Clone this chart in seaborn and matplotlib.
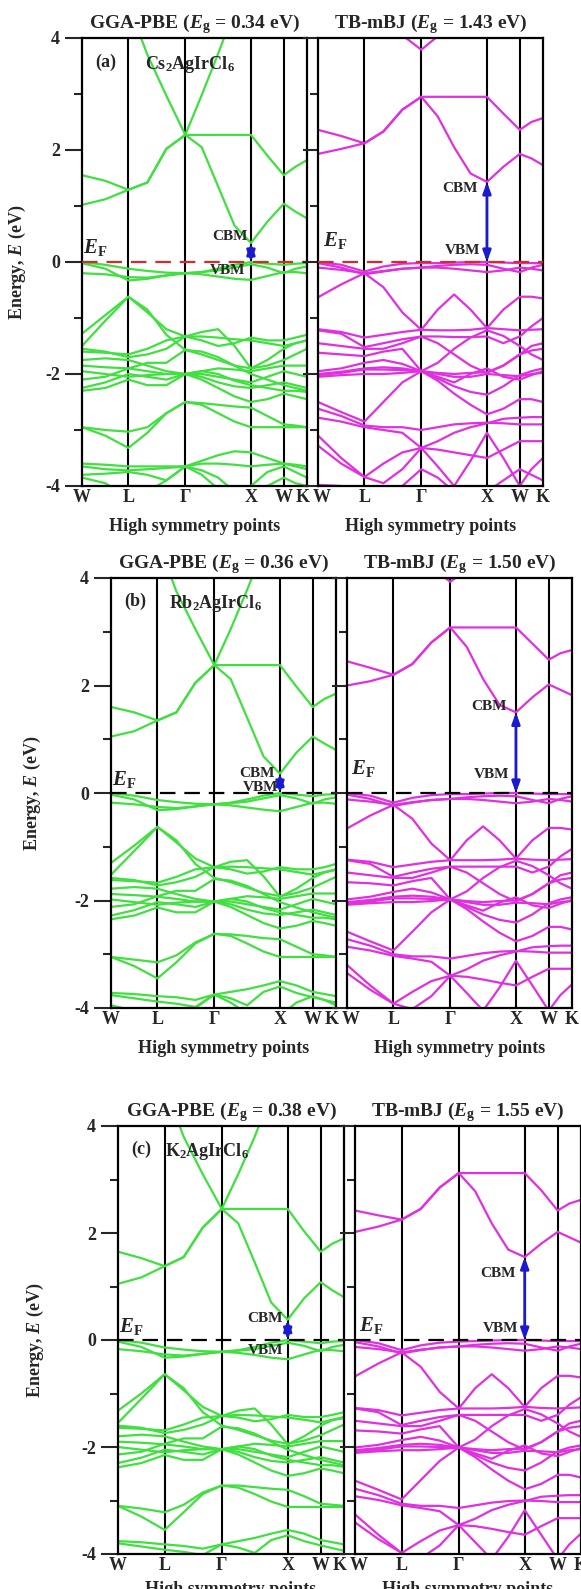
import numpy as np
import pandas as pd
import matplotlib
matplotlib.use("Agg")
import matplotlib.pyplot as plt
import matplotlib.transforms as mtransforms
import seaborn as sns

sns.set_theme(style="ticks")
plt.rcParams.update({
    "font.family": ["Liberation Serif", "DejaVu Serif"],
    "font.weight": "bold",
    "mathtext.fontset": "custom",
    "mathtext.rm": "Liberation Serif:bold",
    "mathtext.it": "Liberation Serif:italic:bold",
    "mathtext.bf": "Liberation Serif:bold",
    "axes.linewidth": 1.5,
    "axes.edgecolor": "black",
})

# k-path W-L-G-X-W-K (units of 2pi/a), 14 sampled points
k_path = [0.0, 0.3536, 0.7071, 0.9958, 1.2845, 1.5731, 1.8231, 2.0731,
          2.3231, 2.5731, 2.8231, 3.0731, 3.2499, 3.4267]
sym_k = [0.0, 0.7071, 1.5731, 2.5731, 3.0731, 3.4267]
sym_labels = ["W", "L", "Γ", "X", "W", "K"]

compounds = [r"Cs$_\mathrm{2}$AgIrCl$_\mathrm{6}$",
             r"Rb$_\mathrm{2}$AgIrCl$_\mathrm{6}$",
             r"K$_\mathrm{2}$AgIrCl$_\mathrm{6}$"]
panel_tags = ["(a)", "(b)", "(c)"]
gap_pbe = [0.34, 0.36, 0.38]
gap_mbj = [1.43, 1.50, 1.55]

# ---------------- Cs2AgIrCl6 -----------------
cs_pbe = [
    [1.02, 1.12, 1.29, 1.42, 2.02, 2.27, 2.05, 1.35, 0.65, 0.34, 0.72, 1.04, 0.90, 0.78],
    [1.55, 1.45, 1.29, 1.42, 2.02, 2.27, 2.27, 2.27, 2.27, 2.27, 1.90, 1.55, 1.70, 1.82],
    [5.5, 5.2, 4.6, 3.7, 2.97, 2.27, 2.98, 3.72, 4.5, 5.0, 5.2, 5.3, 5.3, 5.3],
    [0.00, -0.05, -0.12, -0.16, -0.19, -0.20, -0.18, -0.12, -0.05, 0.00, -0.03, -0.05, -0.03, -0.02],
    [-0.20, -0.22, -0.27, -0.28, -0.24, -0.20, -0.22, -0.26, -0.30, -0.32, -0.25, -0.18, -0.18, -0.20],
    [-0.02, -0.12, -0.33, -0.30, -0.24, -0.20, -0.18, -0.15, -0.10, -0.04, -0.10, -0.20, -0.12, -0.08],
    [-1.28, -0.95, -0.62, -0.85, -1.30, -1.57, -1.65, -1.75, -1.85, -1.90, -1.85, -1.75, -1.65, -1.55],
    [-1.50, -1.05, -0.62, -0.90, -1.20, -1.33, -1.40, -1.50, -1.45, -1.35, -1.40, -1.40, -1.35, -1.30],
    [-1.60, -1.62, -1.65, -1.55, -1.40, -1.33, -1.25, -1.20, -1.50, -1.90, -1.75, -1.55, -1.45, -1.40],
    [-1.55, -1.60, -1.70, -1.65, -1.55, -1.33, -1.33, -1.35, -1.38, -1.40, -1.45, -1.50, -1.45, -1.40],
    [-1.75, -1.72, -1.75, -1.85, -1.95, -2.00, -1.95, -1.90, -1.92, -1.95, -1.90, -1.85, -1.85, -1.85],
    [-1.85, -1.88, -1.90, -1.95, -2.00, -2.00, -2.00, -2.05, -2.10, -2.15, -2.05, -1.95, -2.00, -2.05],
    [-1.95, -2.00, -2.05, -2.02, -2.00, -2.00, -2.05, -2.15, -2.22, -2.25, -2.20, -2.15, -2.20, -2.25],
    [-2.10, -2.05, -1.90, -1.80, -1.80, -1.57, -1.60, -1.70, -1.85, -2.00, -2.10, -2.20, -2.25, -2.30],
    [-2.25, -2.15, -2.00, -2.05, -2.10, -2.00, -1.95, -2.00, -2.12, -2.20, -2.25, -2.30, -2.30, -2.32],
    [-2.30, -2.25, -2.10, -2.20, -2.20, -2.00, -2.10, -2.25, -2.40, -2.50, -2.45, -2.35, -2.40, -2.45],
    [-2.95, -3.00, -3.03, -2.95, -2.70, -2.50, -2.55, -2.70, -2.85, -2.95, -2.95, -2.95, -2.95, -2.95],
    [-2.95, -3.10, -3.32, -3.05, -2.70, -2.50, -2.52, -2.55, -2.58, -2.60, -2.75, -2.90, -2.92, -2.95],
    [-3.60, -3.62, -3.65, -3.65, -3.65, -3.65, -3.60, -3.60, -3.62, -3.65, -3.62, -3.60, -3.62, -3.65],
    [-3.65, -3.70, -3.72, -3.70, -3.68, -3.65, -3.55, -3.45, -3.38, -3.40, -3.50, -3.60, -3.65, -3.70],
    [-3.80, -3.78, -3.75, -3.80, -3.90, -3.65, -3.80, -4.05, -4.20, -4.00, -3.75, -3.65, -3.75, -3.85],
    [-3.85, -3.95, -4.20, -4.10, -3.90, -3.65, -3.72, -3.85, -4.10, -4.30, -4.00, -3.85, -3.95, -4.00],
]
cs_mbj = [
    [1.93, 2.02, 2.12, 2.33, 2.72, 2.95, 2.60, 2.05, 1.58, 1.43, 1.70, 1.93, 1.85, 1.73],
    [2.36, 2.25, 2.12, 2.33, 2.72, 2.95, 2.95, 2.95, 2.95, 2.95, 2.65, 2.36, 2.50, 2.57],
    [6.0, 6.0, 6.0, 5.5, 4.05, 3.79, 4.03, 4.8, 5.5, 6.0, 6.0, 6.0, 6.0, 6.0],
    [0.00, -0.05, -0.17, -0.08, -0.03, -0.02, -0.02, -0.01, 0.00, 0.00, -0.01, -0.02, -0.02, -0.02],
    [-0.10, -0.14, -0.20, -0.16, -0.12, -0.10, -0.10, -0.12, -0.15, -0.18, -0.15, -0.10, -0.12, -0.15],
    [-0.02, -0.10, -0.22, -0.17, -0.12, -0.10, -0.07, -0.05, -0.04, -0.05, -0.12, -0.18, -0.10, -0.05],
    [-0.63, -0.40, -0.20, -0.45, -0.90, -1.21, -0.85, -0.58, -0.85, -1.18, -0.85, -0.62, -0.62, -0.65],
    [-1.20, -1.25, -1.35, -1.30, -1.25, -1.21, -1.22, -1.22, -1.21, -1.18, -1.20, -1.22, -1.21, -1.20],
    [-1.22, -1.28, -1.52, -1.45, -1.38, -1.33, -1.33, -1.34, -1.34, -1.33, -1.45, -1.33, -1.15, -1.00],
    [-1.45, -1.50, -1.55, -1.55, -1.45, -1.33, -1.45, -1.65, -1.85, -1.98, -1.85, -1.65, -1.58, -1.55],
    [-1.62, -1.65, -1.68, -1.60, -1.55, -1.95, -1.80, -1.55, -1.35, -1.22, -1.32, -1.50, -1.65, -1.75],
    [-1.95, -1.90, -1.80, -1.75, -1.82, -1.95, -2.00, -2.05, -2.05, -2.00, -2.02, -2.04, -2.00, -1.98],
    [-2.00, -1.96, -1.90, -1.88, -1.90, -1.95, -2.08, -2.22, -2.32, -2.37, -2.22, -2.02, -1.95, -1.90],
    [-2.02, -1.98, -1.92, -1.92, -1.93, -1.95, -1.98, -2.00, -1.98, -1.97, -1.85, -1.65, -1.50, -1.45],
    [-2.05, -2.02, -2.00, -2.00, -1.98, -1.95, -2.12, -2.35, -2.55, -2.72, -2.62, -2.45, -2.45, -2.50],
    [-2.50, -2.68, -2.85, -2.50, -2.15, -1.95, -2.05, -2.15, -2.00, -1.90, -2.05, -2.10, -2.02, -1.95],
    [-2.62, -2.75, -2.92, -2.95, -2.95, -3.00, -2.95, -2.90, -2.88, -2.87, -2.88, -2.90, -2.90, -2.90],
    [-2.78, -2.85, -2.95, -3.00, -3.05, -3.32, -3.20, -3.05, -2.95, -2.88, -2.80, -2.78, -2.77, -2.77],
    [-3.10, -3.50, -3.84, -3.60, -3.40, -3.32, -3.65, -4.00, -3.55, -3.05, -3.50, -4.00, -3.70, -3.50],
    [-3.28, -3.60, -3.84, -3.95, -3.70, -3.32, -3.35, -3.40, -3.45, -3.50, -3.35, -3.20, -3.20, -3.20],
    [-3.98, -4.00, -4.30, -4.20, -4.00, -3.70, -3.85, -4.10, -4.20, -4.10, -3.90, -3.70, -3.80, -3.90],
]

# ---------------- Rb2AgIrCl6 -----------------
rb_pbe = [
    [1.05, 1.15, 1.35, 1.50, 2.05, 2.38, 2.12, 1.40, 0.68, 0.36, 0.75, 1.05, 0.92, 0.80],
    [1.60, 1.50, 1.35, 1.50, 2.05, 2.38, 2.38, 2.38, 2.38, 2.38, 1.98, 1.60, 1.75, 1.85],
    [5.6, 5.3, 4.7, 3.75, 3.05, 2.38, 3.05, 3.78, 4.55, 5.0, 5.2, 5.3, 5.3, 5.3],
    [0.00, -0.05, -0.13, -0.17, -0.20, -0.21, -0.18, -0.12, -0.05, 0.00, -0.03, -0.06, -0.03, -0.02],
    [-0.18, -0.21, -0.26, -0.28, -0.25, -0.21, -0.23, -0.27, -0.31, -0.34, -0.26, -0.18, -0.18, -0.20],
    [-0.03, -0.12, -0.32, -0.30, -0.25, -0.21, -0.19, -0.16, -0.10, -0.04, -0.10, -0.20, -0.12, -0.08],
    [-1.30, -0.98, -0.63, -0.88, -1.32, -1.58, -1.66, -1.76, -1.86, -1.92, -1.86, -1.76, -1.66, -1.56],
    [-1.52, -1.08, -0.63, -0.92, -1.22, -1.38, -1.42, -1.50, -1.46, -1.38, -1.42, -1.42, -1.38, -1.32],
    [-1.62, -1.64, -1.67, -1.56, -1.42, -1.38, -1.28, -1.25, -1.55, -1.93, -1.78, -1.58, -1.48, -1.43],
    [-1.58, -1.62, -1.72, -1.66, -1.56, -1.38, -1.37, -1.38, -1.40, -1.42, -1.47, -1.52, -1.47, -1.42],
    [-1.78, -1.75, -1.78, -1.88, -1.97, -2.02, -1.97, -1.92, -1.94, -1.97, -1.92, -1.87, -1.87, -1.87],
    [-1.88, -1.90, -1.93, -1.97, -2.02, -2.02, -2.02, -2.07, -2.12, -2.17, -2.07, -1.97, -2.02, -2.07],
    [-1.98, -2.03, -2.08, -2.04, -2.02, -2.02, -2.07, -2.17, -2.24, -2.27, -2.22, -2.17, -2.22, -2.27],
    [-2.12, -2.07, -1.92, -1.82, -1.82, -1.60, -1.63, -1.73, -1.88, -2.03, -2.13, -2.22, -2.27, -2.32],
    [-2.28, -2.18, -2.03, -2.07, -2.12, -2.02, -1.97, -2.02, -2.14, -2.22, -2.27, -2.32, -2.32, -2.35],
    [-2.35, -2.28, -2.13, -2.22, -2.22, -2.02, -2.12, -2.27, -2.42, -2.52, -2.47, -2.38, -2.42, -2.47],
    [-3.05, -3.10, -3.15, -3.02, -2.78, -2.62, -2.66, -2.80, -2.95, -3.05, -3.05, -3.05, -3.05, -3.05],
    [-3.05, -3.22, -3.45, -3.15, -2.80, -2.62, -2.63, -2.66, -2.70, -2.72, -2.86, -3.00, -3.02, -3.05],
    [-3.72, -3.74, -3.78, -3.80, -3.85, -3.75, -3.70, -3.65, -3.58, -3.50, -3.58, -3.70, -3.74, -3.78],
    [-3.76, -3.82, -3.88, -3.92, -3.98, -3.75, -3.82, -3.95, -3.70, -3.60, -3.72, -3.80, -3.85, -3.90],
    [-3.95, -4.05, -4.25, -4.15, -4.00, -3.75, -3.90, -4.10, -4.25, -4.15, -3.90, -3.78, -3.85, -3.95],
]
rb_mbj = [
    [2.00, 2.08, 2.20, 2.40, 2.80, 3.08, 2.72, 2.12, 1.64, 1.50, 1.78, 2.02, 1.92, 1.82],
    [2.45, 2.33, 2.20, 2.40, 2.80, 3.08, 3.08, 3.08, 3.08, 3.08, 2.78, 2.48, 2.60, 2.66],
    [6.0, 6.0, 6.0, 5.6, 4.2, 3.93, 4.15, 4.9, 5.6, 6.0, 6.0, 6.0, 6.0, 6.0],
    [0.00, -0.05, -0.18, -0.09, -0.04, -0.02, -0.02, -0.01, 0.00, 0.00, -0.01, -0.02, -0.02, -0.02],
    [-0.12, -0.16, -0.22, -0.17, -0.13, -0.11, -0.11, -0.13, -0.16, -0.19, -0.16, -0.11, -0.13, -0.16],
    [-0.03, -0.11, -0.24, -0.18, -0.13, -0.11, -0.08, -0.06, -0.05, -0.06, -0.13, -0.19, -0.11, -0.06],
    [-0.66, -0.42, -0.22, -0.48, -0.94, -1.25, -0.88, -0.62, -0.88, -1.22, -0.88, -0.65, -0.65, -0.68],
    [-1.24, -1.28, -1.38, -1.33, -1.28, -1.25, -1.25, -1.25, -1.24, -1.22, -1.24, -1.25, -1.24, -1.23],
    [-1.25, -1.32, -1.56, -1.48, -1.41, -1.37, -1.37, -1.37, -1.37, -1.37, -1.48, -1.37, -1.18, -1.04],
    [-1.48, -1.53, -1.58, -1.58, -1.48, -1.37, -1.48, -1.68, -1.88, -2.02, -1.88, -1.68, -1.61, -1.58],
    [-1.66, -1.68, -1.72, -1.64, -1.58, -1.98, -1.83, -1.58, -1.38, -1.26, -1.36, -1.53, -1.68, -1.78],
    [-1.98, -1.93, -1.84, -1.78, -1.85, -1.98, -2.03, -2.08, -2.08, -2.04, -2.05, -2.07, -2.03, -2.01],
    [-2.03, -1.99, -1.93, -1.91, -1.93, -1.98, -2.12, -2.26, -2.36, -2.41, -2.26, -2.05, -1.98, -1.94],
    [-2.06, -2.02, -1.96, -1.96, -1.97, -1.98, -2.01, -2.03, -2.01, -2.00, -1.88, -1.68, -1.53, -1.48],
    [-2.08, -2.05, -2.03, -2.03, -2.01, -1.98, -2.16, -2.39, -2.60, -2.76, -2.66, -2.49, -2.49, -2.54],
    [-2.58, -2.76, -2.93, -2.58, -2.22, -1.98, -2.09, -2.19, -2.04, -1.94, -2.09, -2.14, -2.06, -1.99],
    [-2.72, -2.84, -3.00, -3.04, -3.04, -3.08, -3.03, -2.98, -2.95, -2.94, -2.95, -2.97, -2.97, -2.97],
    [-2.86, -2.93, -3.03, -3.08, -3.14, -3.40, -3.28, -3.12, -3.02, -2.95, -2.87, -2.85, -2.84, -2.84],
    [-3.20, -3.58, -3.92, -3.70, -3.50, -3.40, -3.72, -4.05, -3.62, -3.12, -3.58, -4.05, -3.76, -3.56],
    [-3.35, -3.66, -3.92, -4.02, -3.78, -3.40, -3.42, -3.47, -3.53, -3.58, -3.42, -3.27, -3.27, -3.27],
]

# ---------------- K2AgIrCl6 -----------------
k_pbe = [
    [1.05, 1.17, 1.38, 1.55, 2.10, 2.45, 2.18, 1.45, 0.70, 0.38, 0.78, 1.08, 0.93, 0.80],
    [1.65, 1.53, 1.38, 1.55, 2.10, 2.45, 2.45, 2.45, 2.45, 2.45, 2.03, 1.65, 1.80, 1.90],
    [5.6, 5.3, 4.75, 3.8, 3.1, 2.45, 3.1, 3.8, 4.6, 5.0, 5.2, 5.3, 5.3, 5.3],
    [0.00, -0.05, -0.14, -0.18, -0.21, -0.22, -0.19, -0.13, -0.05, 0.00, -0.03, -0.06, -0.03, -0.02],
    [-0.17, -0.21, -0.27, -0.29, -0.26, -0.22, -0.24, -0.28, -0.33, -0.36, -0.27, -0.18, -0.19, -0.21],
    [-0.03, -0.13, -0.33, -0.31, -0.26, -0.22, -0.20, -0.17, -0.11, -0.05, -0.11, -0.21, -0.13, -0.09],
    [-1.32, -1.00, -0.64, -0.90, -1.35, -1.60, -1.68, -1.78, -1.88, -1.94, -1.88, -1.78, -1.68, -1.58],
    [-1.55, -1.10, -0.64, -0.94, -1.25, -1.42, -1.45, -1.52, -1.48, -1.40, -1.44, -1.44, -1.40, -1.35],
    [-1.64, -1.66, -1.69, -1.58, -1.45, -1.42, -1.32, -1.28, -1.58, -1.95, -1.80, -1.60, -1.50, -1.46],
    [-1.60, -1.64, -1.74, -1.68, -1.58, -1.42, -1.40, -1.41, -1.43, -1.45, -1.49, -1.54, -1.49, -1.44],
    [-1.80, -1.77, -1.80, -1.90, -1.99, -2.04, -1.99, -1.94, -1.96, -1.99, -1.94, -1.89, -1.89, -1.89],
    [-1.90, -1.92, -1.95, -1.99, -2.04, -2.04, -2.04, -2.09, -2.14, -2.19, -2.09, -1.99, -2.04, -2.09],
    [-2.00, -2.05, -2.10, -2.06, -2.04, -2.04, -2.09, -2.19, -2.26, -2.29, -2.24, -2.19, -2.24, -2.29],
    [-2.14, -2.09, -1.94, -1.84, -1.84, -1.62, -1.65, -1.75, -1.90, -2.05, -2.15, -2.24, -2.29, -2.34],
    [-2.30, -2.20, -2.05, -2.09, -2.14, -2.04, -1.99, -2.04, -2.16, -2.24, -2.29, -2.34, -2.34, -2.37],
    [-2.38, -2.30, -2.15, -2.24, -2.24, -2.04, -2.14, -2.29, -2.44, -2.54, -2.49, -2.40, -2.44, -2.49],
    [-3.10, -3.15, -3.22, -3.08, -2.85, -2.72, -2.76, -2.88, -3.02, -3.12, -3.12, -3.12, -3.12, -3.12],
    [-3.10, -3.30, -3.55, -3.22, -2.88, -2.72, -2.72, -2.75, -2.78, -2.80, -2.92, -3.06, -3.08, -3.10],
    [-3.76, -3.78, -3.82, -3.85, -3.90, -3.82, -3.76, -3.70, -3.62, -3.55, -3.62, -3.74, -3.78, -3.82],
    [-3.80, -3.86, -3.92, -3.96, -4.02, -3.82, -3.88, -3.98, -3.74, -3.65, -3.76, -3.84, -3.89, -3.94],
]
k_mbj = [
    [2.02, 2.12, 2.25, 2.45, 2.85, 3.12, 2.78, 2.18, 1.69, 1.55, 1.80, 2.02, 1.92, 1.82],
    [2.42, 2.33, 2.25, 2.45, 2.85, 3.12, 3.12, 3.12, 3.12, 3.12, 2.80, 2.42, 2.55, 2.62],
    [6.0, 6.0, 6.0, 5.7, 4.3, 4.00, 4.25, 5.0, 5.7, 6.0, 6.0, 6.0, 6.0, 6.0],
    [0.00, -0.06, -0.19, -0.10, -0.05, -0.03, -0.02, -0.01, 0.00, 0.00, -0.01, -0.02, -0.02, -0.02],
    [-0.13, -0.17, -0.23, -0.18, -0.14, -0.12, -0.12, -0.14, -0.17, -0.20, -0.17, -0.12, -0.14, -0.17],
    [-0.04, -0.12, -0.25, -0.19, -0.14, -0.12, -0.09, -0.07, -0.06, -0.07, -0.14, -0.20, -0.12, -0.07],
    [-0.68, -0.44, -0.23, -0.50, -0.97, -1.28, -0.90, -0.64, -0.90, -1.25, -0.90, -0.67, -0.67, -0.70],
    [-1.27, -1.31, -1.41, -1.36, -1.31, -1.28, -1.28, -1.28, -1.27, -1.25, -1.27, -1.28, -1.27, -1.26],
    [-1.28, -1.35, -1.59, -1.51, -1.44, -1.40, -1.40, -1.40, -1.40, -1.40, -1.51, -1.40, -1.21, -1.07],
    [-1.51, -1.56, -1.61, -1.61, -1.51, -1.40, -1.51, -1.71, -1.91, -2.05, -1.91, -1.71, -1.64, -1.61],
    [-1.69, -1.71, -1.75, -1.67, -1.61, -2.01, -1.86, -1.61, -1.41, -1.29, -1.39, -1.56, -1.71, -1.81],
    [-2.01, -1.96, -1.87, -1.81, -1.88, -2.01, -2.06, -2.11, -2.11, -2.07, -2.08, -2.10, -2.06, -2.04],
    [-2.06, -2.02, -1.96, -1.94, -1.96, -2.01, -2.15, -2.29, -2.39, -2.44, -2.29, -2.08, -2.01, -1.97],
    [-2.09, -2.05, -1.99, -1.99, -2.00, -2.01, -2.04, -2.06, -2.04, -2.03, -1.91, -1.71, -1.56, -1.51],
    [-2.11, -2.08, -2.06, -2.06, -2.04, -2.01, -2.19, -2.42, -2.63, -2.79, -2.69, -2.52, -2.52, -2.57],
    [-2.63, -2.80, -2.98, -2.62, -2.26, -2.01, -2.12, -2.22, -2.07, -1.97, -2.12, -2.17, -2.09, -2.02],
    [-2.78, -2.90, -3.06, -3.10, -3.10, -3.14, -3.09, -3.04, -3.01, -3.00, -3.01, -3.03, -3.03, -3.03],
    [-2.92, -2.99, -3.09, -3.14, -3.20, -3.46, -3.34, -3.18, -3.08, -3.01, -2.93, -2.91, -2.90, -2.90],
    [-3.26, -3.64, -3.98, -3.76, -3.56, -3.46, -3.78, -4.10, -3.68, -3.18, -3.64, -4.10, -3.82, -3.62],
    [-3.41, -3.72, -3.98, -4.08, -3.84, -3.46, -3.48, -3.53, -3.59, -3.64, -3.48, -3.33, -3.33, -3.33],
]

pbe_sets = [cs_pbe, rb_pbe, k_pbe]
mbj_sets = [cs_mbj, rb_mbj, k_mbj]

# label anchors (k, E) for each row: E_F, CBM, VBM on the two panels
ef_pos_pbe = [(0.02, 0.25), (0.02, 0.25), (0.02, 0.25)]
ef_pos_mbj = [(0.08, 0.38), (0.06, 0.45), (0.06, 0.28)]
cbm_pos_pbe = [(2.52, 0.46), (2.50, 0.36), (2.50, 0.40)]
vbm_pos_pbe = [(2.49, -0.16), (2.55, 0.10), (2.50, -0.20)]
cbm_pos_mbj = [(2.44, 1.32), (2.44, 1.60), (2.44, 1.25)]
vbm_pos_mbj = [(2.47, 0.21), (2.47, 0.35), (2.47, 0.22)]
ef_line_color = ["#d42a2a", "black", "black"]
ylabel_pad = [12, 22, 25]
xlabel_pad = [9, 9, 5]

pbe_color = "#3fe03f"
mbj_color = "#e030e0"
arrow_color = "#1a1ad0"

W, H = 581, 1589
fig = plt.figure(figsize=(W / 100, H / 100), dpi=100)

# panel frames in pixels: (left x, top y, width, height)
rows = [
    ((82, 38, 225, 448), (318, 38, 225, 448)),
    ((111, 578, 225, 430), (347, 578, 225, 430)),
    ((118, 1126, 226, 428), (355, 1126, 226, 428)),
]


def px_axes(x, y, w, h):
    return fig.add_axes([x / W, 1 - (y + h) / H, w / W, h / H])


def to_frame(bands):
    recs = []
    for i, b in enumerate(bands):
        for kk, e in zip(k_path, b):
            recs.append((i, kk, e))
    return pd.DataFrame(recs, columns=["band", "k", "E"])


def shift_label(label, dx_px):
    label.set_transform(label.get_transform() +
                        mtransforms.ScaledTranslation(dx_px / 100, 0, fig.dpi_scale_trans))


def style_axes(ax, left_labels, major_len, pad, xpad):
    ax.set_xlim(sym_k[0], sym_k[-1])
    ax.set_ylim(-4, 4)
    ax.set_xticks(sym_k)
    ax.set_xticklabels(sym_labels, fontsize=13, fontweight="bold")
    ax.tick_params(axis="x", length=0, pad=2)
    ax.set_yticks([-4, -2, 0, 2, 4])
    ax.set_yticks([-3, -1, 1, 3], minor=True)
    ax.tick_params(axis="y", which="major", direction="out", length=major_len,
                   width=1.5, labelsize=13, pad=4)
    ax.tick_params(axis="y", which="minor", direction="out", length=6, width=1.5)
    if left_labels:
        ax.set_yticklabels(["-4", "-2", "0", "2", "4"], fontweight="bold")
        ax.set_ylabel(r"Energy, $E$ (eV)", fontsize=13, fontweight="bold", labelpad=pad)
        shift_label(ax.get_xticklabels()[-1], -4)
    else:
        ax.set_yticklabels([])
        ax.set_ylabel("")
        shift_label(ax.get_xticklabels()[0], 4)
    ax.set_xlabel("High symmetry points", fontsize=13, fontweight="bold", labelpad=xpad)
    for s in ax.spines.values():
        s.set_linewidth(1.6)
        s.set_color("black")
    for kk in sym_k[1:-1]:
        ax.axvline(kk, color="black", lw=1.5, zorder=1)


for r in range(3):
    (lx, ly, lw_, lh), (rx, ry, rw, rh) = rows[r]
    ax_l = px_axes(lx, ly, lw_, lh)
    ax_r = px_axes(rx, ry, rw, rh)

    for ax, bands, color in ((ax_l, pbe_sets[r], pbe_color), (ax_r, mbj_sets[r], mbj_color)):
        sns.lineplot(data=to_frame(bands), x="k", y="E", units="band", estimator=None,
                     sort=False, color=color, lw=1.6, ax=ax, legend=False, zorder=2)
        ax.axhline(0, color=ef_line_color[r], lw=1.6, ls=(0, (7, 4)), zorder=3)

    style_axes(ax_l, True, 12, ylabel_pad[r], xlabel_pad[r])
    style_axes(ax_r, False, 11, 0, xlabel_pad[r])

    ax_l.set_title(r"GGA-PBE ($E_\mathrm{g}$ = %.2f eV)" % gap_pbe[r],
                   fontsize=14, fontweight="bold", pad=7)
    ax_r.set_title(r"TB-mBJ ($E_\mathrm{g}$ = %.2f eV)" % gap_mbj[r],
                   fontsize=14, fontweight="bold", pad=7)

    ax_l.text(0.20, 3.57, panel_tags[r], fontsize=13, fontweight="bold", va="center")
    ax_l.text([0.96, 0.88, 0.72][r], 3.52, compounds[r], fontsize=13, fontweight="bold", va="center")

    # Fermi level tags
    ax_l.text(*ef_pos_pbe[r], r"$E_\mathrm{F}$", fontsize=15, va="center", ha="left")
    ax_r.text(*ef_pos_mbj[r], r"$E_\mathrm{F}$", fontsize=15, va="center", ha="left")

    # band-gap arrows at X
    xk = sym_k[3]
    for ax, gap in ((ax_l, gap_pbe[r]), (ax_r, gap_mbj[r])):
        ax.annotate("", xy=(xk, gap), xytext=(xk, 0.0),
                    arrowprops=dict(arrowstyle="<|-|>,head_length=0.55,head_width=0.2",
                                    color=arrow_color, lw=2.0, shrinkA=0, shrinkB=0),
                    zorder=5)
    ax_l.text(*cbm_pos_pbe[r], "CBM", fontsize=11, fontweight="bold", ha="right", va="center", zorder=6)
    ax_l.text(*vbm_pos_pbe[r], "VBM", fontsize=11, fontweight="bold", ha="right", va="center", zorder=6)
    ax_r.text(*cbm_pos_mbj[r], "CBM", fontsize=11, fontweight="bold", ha="right", va="center", zorder=6)
    ax_r.text(*vbm_pos_mbj[r], "VBM", fontsize=11, fontweight="bold", ha="right", va="center", zorder=6)

fig.savefig("out.png", dpi=100, facecolor="white")
